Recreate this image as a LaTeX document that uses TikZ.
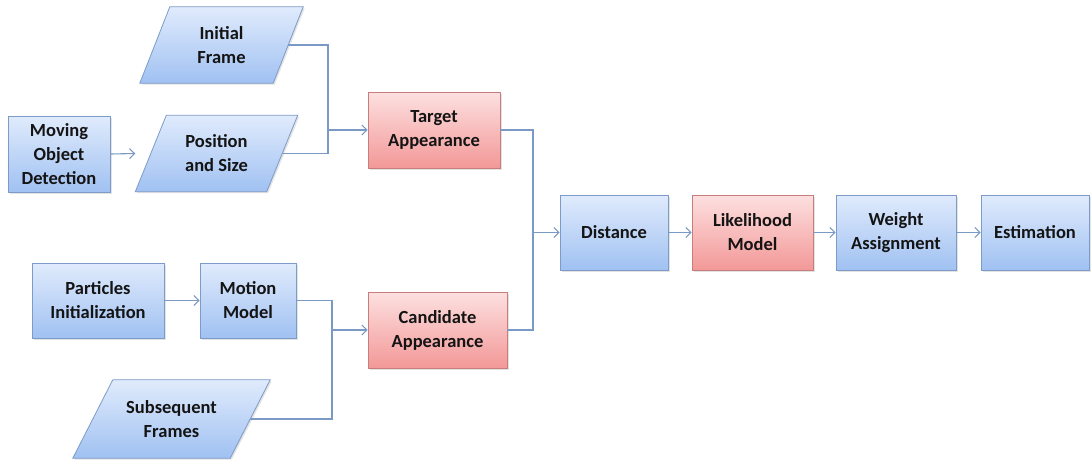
\documentclass[tikz,border=0pt]{standalone}
\usepackage{fontspec}
\setmainfont{Carlito}
\usetikzlibrary{arrows.meta,backgrounds,shadows}
\definecolor{bluetop}{RGB}{224,235,252}
\definecolor{bluebot}{RGB}{160,193,242}
\definecolor{blueedge}{RGB}{125,155,200}
\definecolor{redtop}{RGB}{253,224,224}
\definecolor{redbot}{RGB}{243,152,152}
\definecolor{rededge}{RGB}{200,125,125}
\definecolor{wire}{RGB}{122,153,196}
\begin{document}
\begin{tikzpicture}[x=1pt,y=1pt,
  base/.style={minimum height=76pt, inner sep=0pt, align=center,
    font=\fontsize{18.5}{24}\selectfont\bfseries, text=black!92},
  shad/.style={drop shadow={opacity=0.22, shadow xshift=1.5pt, shadow yshift=-1.5pt}},
  bluebox/.style={base, draw=blueedge, line width=0.8pt, top color=bluetop, bottom color=bluebot, shad},
  redbox/.style={base, draw=rededge, line width=0.8pt, top color=redtop, bottom color=redbot, shad},
  pgtext/.style={base},
  pgfill/.style={draw=blueedge, line width=0.8pt, top color=bluetop, bottom color=bluebot, shad},
  wireline/.style={draw=wire, line width=1.1pt},
  arrowline/.style={wireline, -{Straight Barb[length=5pt,width=10pt]}}
]
% rectangles
\node[bluebox, minimum width=102pt] (mod) at (59,-154) {Moving\\Object\\Detection};
\node[redbox, minimum width=132pt] (tgt) at (434,-130) {Target\\Appearance};
\node[redbox, minimum width=139pt] (cand) at (437.5,-330) {Candidate\\Appearance};
\node[bluebox, minimum width=132pt, minimum height=75pt] (part) at (98,-300.5) {Particles\\Initialization};
\node[bluebox, minimum width=96pt, minimum height=75pt] (mot) at (248,-300.5) {Motion\\Model};
\node[bluebox, minimum width=108pt, minimum height=75pt] (dist) at (614,-232.5) {Distance};
\node[redbox, minimum width=121pt, minimum height=75pt] (like) at (752.5,-232.5) {Likelihood\\Model};
\node[bluebox, minimum width=120pt, minimum height=75pt] (wgt) at (896,-232.5) {Weight\\Assignment};
\node[bluebox, minimum width=108pt, minimum height=75pt] (est) at (1035,-232.5) {Estimation};
% parallelogram texts
\node[pgtext, minimum width=133pt] (init) at (221.5,-45) {Initial\\Frame};
\node[pgtext, minimum width=131pt] (pos) at (216.5,-153.5) {Position\\and Size};
\node[pgtext, minimum width=157pt, minimum height=78pt] (subs) at (171.5,-419) {Subsequent\\Frames};
\begin{scope}[on background layer]
  \fill[white] (0,0) rectangle (1092,-461);
  \foreach \n/\s in {init/15,pos/15.5,subs/20}{
    \path[pgfill] ([xshift=-\s pt]\n.south west) -- ([xshift=\s pt]\n.north west)
      -- ([xshift=\s pt]\n.north east) -- ([xshift=-\s pt]\n.south east) -- cycle;
  }
\end{scope}
\useasboundingbox (0,0) rectangle (1092,-461);
% junctions
\coordinate (j1) at (328,-130);
\coordinate (j2) at (332,-330);
\coordinate (j3) at (533,-232.5);
% connectors
\draw[arrowline] (mod.east) -- ([xshift=-15.5pt]pos.west);
\draw[wireline] (init.east) -| (j1) |- (pos.east);
\draw[arrowline] (j1) -- (tgt.west);
\draw[arrowline] (part.east) -- (mot.west);
\draw[wireline] (mot.east) -| (j2) |- (subs.east);
\draw[arrowline] (j2) -- (cand.west);
\draw[wireline] (tgt.east) -| (j3) |- (cand.east);
\draw[arrowline] (j3) -- (dist.west);
\draw[arrowline] (dist.east) -- (like.west);
\draw[arrowline] (like.east) -- (wgt.west);
\draw[arrowline] (wgt.east) -- (est.west);
\end{tikzpicture}
\end{document}
